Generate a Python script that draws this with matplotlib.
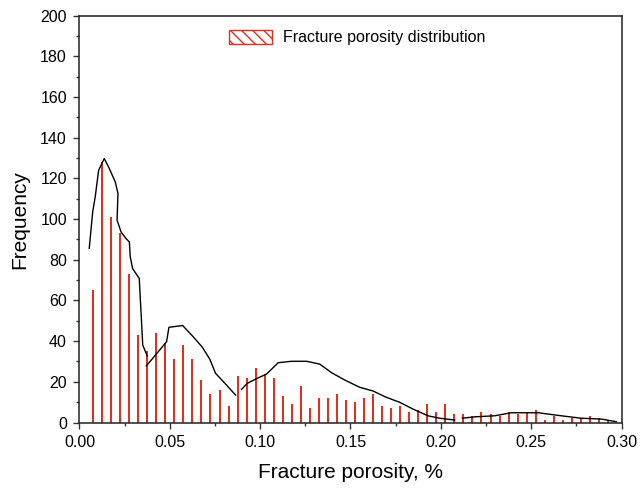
import matplotlib
matplotlib.use('Agg')
import matplotlib.pyplot as plt
from matplotlib.patches import Patch
from matplotlib.ticker import MultipleLocator

# histogram bins (centres) and counts
bin_start = 0.0075
bin_step = 0.005
counts = [65, 128, 101, 93, 73, 43, 35, 44, 39, 31,
          38, 31, 21, 14, 16, 8, 23, 22, 27, 24,
          22, 13, 9, 18, 7, 12, 12, 14, 11, 10,
          12, 14, 8, 7, 8, 5, 6, 9, 5, 9,
          4, 4, 3, 5, 4, 3, 5, 4, 5, 6,
          1, 3, 1, 2, 2, 3, 2, 1]
porosity = [round(bin_start + bin_step * i, 4) for i in range(len(counts))]

# smoothed envelope, drawn as separate pieces
curve_x = [
    [0.0054, 0.0073, 0.0087, 0.0106, 0.0137, 0.0165, 0.0198, 0.0213, 0.0208,
     0.0230, 0.0257, 0.0276, 0.0281, 0.0294, 0.0331, 0.0336, 0.0344, 0.0350, 0.0375],
    [0.0370, 0.0482, 0.0495, 0.0571, 0.0630, 0.0681, 0.0722, 0.0753, 0.0814, 0.0864],
    [0.0897, 0.0928, 0.0976, 0.1035, 0.1100, 0.1174, 0.1257, 0.1330, 0.1395, 0.1468,
     0.1551, 0.1625, 0.1690, 0.1773, 0.1846, 0.1929, 0.1994, 0.2077],
    [0.2119, 0.2188, 0.2298, 0.2390, 0.2538, 0.2667, 0.2778, 0.2888, 0.2971],
]
curve_y = [
    [85.6, 103.5, 110.9, 124.0, 129.8, 124.9, 118.3, 112.6, 99.5,
     93.7, 90.5, 88.8, 81.4, 75.7, 70.8, 61.8, 48.7, 38.1, 32.7],
    [27.8, 39.7, 46.8, 47.7, 42.1, 36.9, 31.0, 24.2, 18.4, 13.5],
    [16.3, 19.2, 21.4, 23.8, 29.4, 30.1, 30.1, 28.7, 24.5, 20.9,
     17.3, 15.5, 12.7, 9.9, 6.6, 3.3, 2.1, 1.2],
    [2.1, 2.8, 3.3, 4.8, 4.8, 3.3, 2.1, 1.7, 0.4],
]

plt.rcParams['font.family'] = ['Liberation Sans', 'DejaVu Sans']
plt.rcParams['hatch.linewidth'] = 1.0

bar_color = '#e2301e'

fig = plt.figure(figsize=(6.41, 4.88), dpi=100)
ax = fig.add_axes([0.124, 0.1342, 0.8456, 0.8336])

ax.bar(porosity, counts, width=0.0011, color=bar_color, linewidth=0)
for cx, cy in zip(curve_x, curve_y):
    ax.plot(cx, cy, color='black', linewidth=1.0)

ax.set_xlim(0, 0.30)
ax.set_ylim(0, 200)
ax.xaxis.set_major_locator(MultipleLocator(0.05))
ax.xaxis.set_minor_locator(MultipleLocator(0.025))
ax.yaxis.set_major_locator(MultipleLocator(20))
ax.yaxis.set_minor_locator(MultipleLocator(10))
ax.xaxis.set_major_formatter(matplotlib.ticker.FormatStrFormatter('%.2f'))
ax.tick_params(which='major', direction='out', length=4, width=1, labelsize=11.5, pad=5, color='#333333')
ax.tick_params(which='minor', direction='out', length=2.5, width=1, color='#333333')
for s in ax.spines.values():
    s.set_linewidth(1.1)
    s.set_color('#222222')

ax.set_xlabel('Fracture porosity, %', fontsize=15, labelpad=9)
ax.set_ylabel('Frequency', fontsize=15, labelpad=8)

handle = Patch(facecolor='white', edgecolor=bar_color, hatch='\\\\\\', linewidth=1.0)
fig.legend([handle], ['Fracture porosity distribution'], loc='center left',
           bbox_to_anchor=(229 / 641, 1 - 37.5 / 488), frameon=False,
           fontsize=11.5, handlelength=2.7, handleheight=0.95,
           handletextpad=0.7, borderpad=0, borderaxespad=0)

fig.savefig('out.png', dpi=100)
